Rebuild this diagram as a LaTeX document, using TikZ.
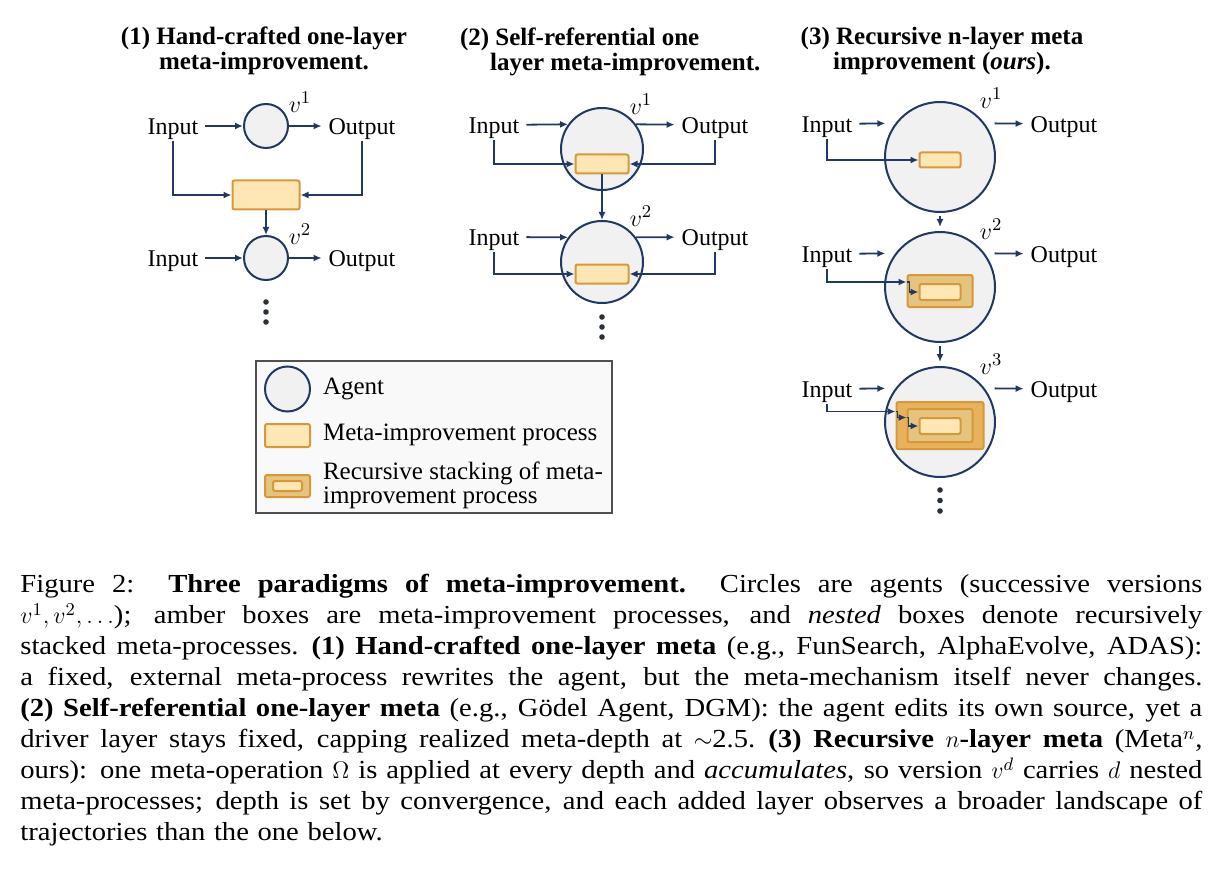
\documentclass[tikz,border=0pt]{standalone}
\usepackage{fontspec}
\setmainfont{Liberation Serif}
\newfontfamily\capfont[FakeStretch=1.10]{Liberation Serif}
\usetikzlibrary{positioning, calc, arrows.meta}

\definecolor{navy}{RGB}{31,56,100}
\definecolor{agentgray}{RGB}{241,241,241}
\definecolor{metaline}{RGB}{214,152,58}
\definecolor{metalight}{RGB}{255,230,181}
\definecolor{metatan}{RGB}{229,196,127}
\definecolor{metaamber}{RGB}{232,178,92}
\definecolor{legline}{RGB}{80,80,80}
\definecolor{legfill}{RGB}{249,249,249}
\definecolor{dotgray}{RGB}{40,48,64}

\newcommand{\capline}[1]{\makebox[591pt][s]{\spaceskip=0.25em plus 1em minus 0.06em #1}}
\newcommand{\capgap}{\hskip 0.5em plus 2em\relax}

\begin{document}
\begin{tikzpicture}[x=0.5pt, y=-0.5pt,
		agent/.style={circle, draw=navy, line width=1pt, fill=agentgray, inner sep=0pt},
		mbox/.style={draw=metaline, line width=1pt, fill=metalight, rounded corners=1pt, inner sep=0pt},
		mboxtwo/.style={mbox, fill=metatan},
		mboxthree/.style={mbox, fill=metaamber},
		lbl/.style={font=\fontsize{12}{14}\selectfont, text height=8.2pt, text depth=0pt},
		vlbl/.style={font=\fontsize{13}{15}\selectfont, inner sep=1pt},
		lgd/.style={font=\fontsize{12.5}{10}\selectfont},
		title/.style={font=\bfseries\fontsize{12.5}{12.5}\selectfont},
		arr/.style={draw=navy, line width=0.9pt, -{Latex[length=4pt,width=3.5pt]}},
		legbox/.style={draw=legline, line width=0.8pt, fill=legfill}]
	\useasboundingbox (0,0) rectangle (1225,877);
	
	\node (ttla) [title, align=center] at (264,51) {(1) Hand-crafted one-layer\\meta-improvement.};
	\node (aag1) [agent, minimum size=22pt] at (266,126) {};
	\node (ain1) [lbl] at (173,126) {Input};
	\node (aout1) [lbl] at (362,126) {Output};
	\node (av1) [vlbl] at (300,102) {$v^1$};
	\node (amp) [mbox, minimum width=33.5pt, minimum height=14.5pt] at (266,195) {};
	\node (aag2) [agent, minimum size=22pt] at (266,258) {};
	\node (ain2) [lbl] at (173,258) {Input};
	\node (aout2) [lbl] at (362,258) {Output};
	\node (av2) [vlbl] at (300,234) {$v^2$};
	\draw [arr] (ain1) -- (aag1);
	\draw [arr] (aag1) -- (aout1);
	\draw [arr] (ain1) |- (amp);
	\draw [arr] (aout1) |- (amp);
	\draw [arr] (amp) -- (aag2);
	\draw [arr] (ain2) -- (aag2);
	\draw [arr] (aag2) -- (aout2);
	\foreach \y in {302,312,322} \fill [dotgray] (266,\y) circle (1.4pt);
	
	\node (ttlb) [title, align=left, anchor=west] at (453,52) {(2) Self-referential one\\\hspace{15pt}layer meta-improvement.};
	\node (bag1) [agent, minimum size=41pt] at (602,149) {};
	\node (bin1) [lbl] at (494,125) {Input};
	\node (bout1) [lbl] at (715,125) {Output};
	\node (bv1) [vlbl] at (641,104) {$v^1$};
	\node (bmp1) [mbox, minimum width=26.5pt, minimum height=9.5pt] at (602,164) {};
	\node (bag2) [agent, minimum size=41pt] at (602,262) {};
	\node (bin2) [lbl] at (494,237) {Input};
	\node (bout2) [lbl] at (715,237) {Output};
	\node (bv2) [vlbl] at (641,216) {$v^2$};
	\node (bmp2) [mbox, minimum width=26.5pt, minimum height=9.5pt] at (602,274) {};
	\draw [arr] (bin1) -- (bag1.144);
	\draw [arr] (bag1.36) -- (bout1);
	\draw [arr] (bin1) |- (bmp1);
	\draw [arr] (bout1) |- (bmp1);
	\draw [arr] (bmp1) -- (bag2);
	\draw [arr] (bin2) -- (bag2.144);
	\draw [arr] (bag2.36) -- (bout2);
	\draw [arr] (bin2) |- (bmp2);
	\draw [arr] (bout2) |- (bmp2);
	\foreach \y in {317,327,337} \fill [dotgray] (602,\y) circle (1.4pt);
	
	\node (ttlc) [title, align=center] at (942,51) {(3) Recursive n-layer meta\\improvement (\textit{ours}).};
	\node (cag1) [agent, minimum size=55pt] at (940,157) {};
	\node (cin1) [lbl] at (827,124) {Input};
	\node (cout1) [lbl] at (1064,124) {Output};
	\node (cv1) [vlbl] at (991,98) {$v^1$};
	\node (cmp1) [mbox, minimum width=20.5pt, minimum height=7.5pt] at (940,160) {};
	\node (cag2) [agent, minimum size=55pt] at (940,287) {};
	\node (cin2) [lbl] at (827,254) {Input};
	\node (cout2) [lbl] at (1064,254) {Output};
	\node (cv2) [vlbl] at (991,229) {$v^2$};
	\node (cmo2) [mboxtwo, minimum width=32.5pt, minimum height=16pt] at (940,291) {};
	\node (cmi2) [mbox, minimum width=20.5pt, minimum height=8pt] at (940,292) {};
	\node (cag3) [agent, minimum size=55pt] at (940,422) {};
	\node (cin3) [lbl] at (827,389) {Input};
	\node (cout3) [lbl] at (1064,389) {Output};
	\node (cv3) [vlbl] at (991,364) {$v^3$};
	\node (cmo3) [mboxthree, minimum width=43.5pt, minimum height=23.5pt] at (940,425.5) {};
	\node (cmm3) [mboxtwo, minimum width=32.5pt, minimum height=16.5pt] at (940,425.5) {};
	\node (cmi3) [mbox, minimum width=20.5pt, minimum height=8pt] at (940,426) {};
	\draw [arr, shorten >=5pt] (cin1) -- (cag1.143);
	\draw [arr, shorten <=5pt] (cag1.37) -- (cout1);
	\draw [arr] (cin1) |- (cmp1);
	\draw [arr, shorten <=1.5pt, shorten >=2pt] (cag1) -- (cag2);
	\draw [arr, shorten >=5pt] (cin2) -- (cag2.143);
	\draw [arr, shorten <=5pt] (cag2.37) -- (cout2);
	\draw [arr] (cin2) |- ([yshift=4.5pt]cmo2.west);
	\draw [arr] ([yshift=4.5pt]cmo2.west) -- ++(1.5pt,0) |- (cmi2.west);
	\draw [arr, shorten <=1.5pt, shorten >=2pt] (cag2) -- (cag3);
	\draw [arr, shorten >=5pt] (cin3) -- (cag3.143);
	\draw [arr, shorten <=5pt] (cag3.37) -- (cout3);
	\draw [arr] (cin3) |- ([yshift=7pt]cmo3.west);
	\draw [arr] ([yshift=7pt]cmo3.west) -- ++(1pt,0) |- ([yshift=4pt]cmm3.west);
	\draw [arr] ([yshift=4pt]cmm3.west) -- ++(1pt,0) |- (cmi3.west);
	\foreach \y in {490,500.5,511} \fill [dotgray] (940,\y) circle (1.4pt);
	
	\node (leg) [legbox, minimum width=178pt, minimum height=76pt] at (434,437) {};
	\node (lag) [agent, minimum size=22.5pt] at (287.5,389) {};
	\node (lagt) [lgd, anchor=west] at (316,389) {Agent};
	\node (lmp) [mbox, minimum width=22.5pt, minimum height=11.5pt] at (287.5,435.5) {};
	\node (lmpt) [lgd, anchor=west] at (316,435) {Meta-improvement process};
	\node (lso) [mboxtwo, minimum width=22.5pt, minimum height=11pt] at (287.5,486) {};
	\node (lsi) [mbox, minimum width=14.5pt, minimum height=5pt] at (287.5,486) {};
	\node (lst) [lgd, anchor=west, align=left] at (316,485) {Recursive stacking of meta-\\improvement process};
	
	\node (cap) [anchor=north west, inner sep=0pt, text width=591pt, font=\capfont\fontsize{13}{15.5}\selectfont] at (20,574) {\noindent
		\capline{Figure 2:\capgap\textbf{Three paradigms of meta-improvement.}\capgap Circles are agents (successive versions}\\
		\capline{$v^1, v^2, \ldots$); amber boxes are meta-improvement processes, and \emph{nested} boxes denote recursively}\\
		\capline{stacked meta-processes. \textbf{(1) Hand-crafted one-layer meta} (e.g., FunSearch, AlphaEvolve, ADAS):}\\
		\capline{a fixed, external meta-process rewrites the agent, but the meta-mechanism itself never changes.}\\
		\capline{\textbf{(2) Self-referential one-layer meta} (e.g., Gödel Agent, DGM): the agent edits its own source, yet a}\\
		\capline{driver layer stays fixed, capping realized meta-depth at $\sim$2.5. \textbf{(3) Recursive $n$-layer meta} (Meta$^n$,}\\
		\capline{ours): one meta-operation $\Omega$ is applied at every depth and \emph{accumulates}, so version $v^d$ carries $d$ nested}\\
		\capline{meta-processes; depth is set by convergence, and each added layer observes a broader landscape of}\\
		trajectories than the one below.};
\end{tikzpicture}
\end{document}
